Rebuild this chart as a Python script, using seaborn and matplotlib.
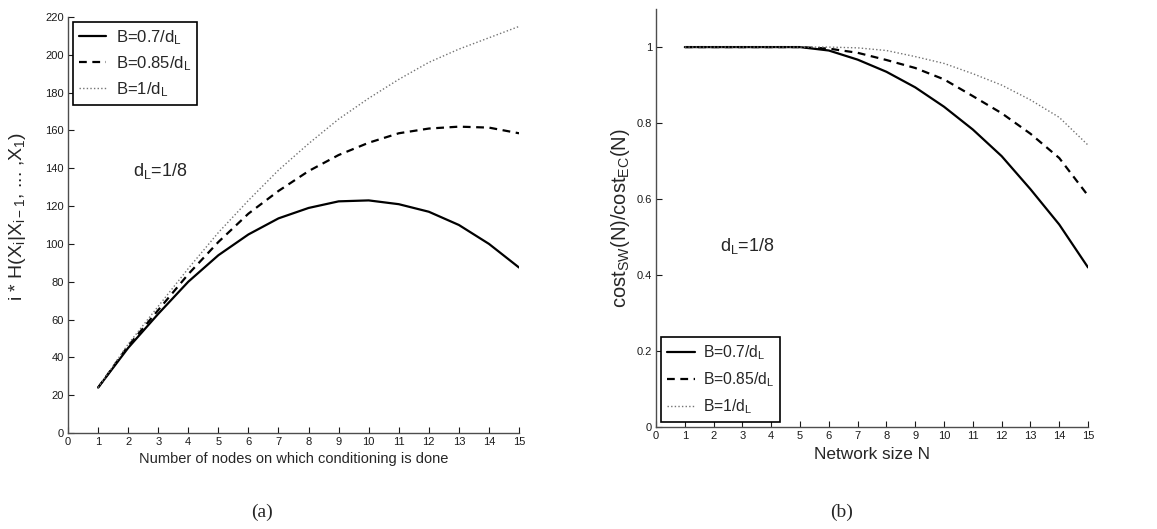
import matplotlib
matplotlib.use("Agg")
import matplotlib.pyplot as plt
import seaborn as sns
import pandas as pd

# ---- data ----
nodes = list(range(1, 16))
labels = ["B=0.7/d$_L$", "B=0.85/d$_L$", "B=1/d$_L$"]
entropy_07 = [24, 45, 63, 80, 94, 105, 113.5, 119, 122.5, 123, 121, 117, 110, 100, 87.5]
entropy_085 = [24, 46, 65, 84, 101, 116, 128, 138.5, 147, 153.5, 158.5, 161, 162, 161.5, 158.5]
entropy_1 = [24, 47, 67, 87, 106, 123, 139, 153, 166, 177, 187, 196, 203, 209, 215]

netsize = list(range(1, 16))
cost_07 = [1, 1, 1, 1, 1, 0.991, 0.967, 0.935, 0.894, 0.843, 0.783, 0.713, 0.626, 0.533, 0.42]
cost_085 = [1, 1, 1, 1, 1, 0.996, 0.985, 0.966, 0.945, 0.915, 0.871, 0.826, 0.772, 0.708, 0.609]
cost_1 = [1, 1, 1, 1, 1, 1, 0.998, 0.991, 0.975, 0.957, 0.93, 0.9, 0.861, 0.815, 0.742]

sns.set_theme(style="ticks")
plt.rcParams['font.family'] = ['Liberation Sans', 'DejaVu Sans']
plt.rcParams['mathtext.default'] = 'regular'

fig = plt.figure(figsize=(11.57, 5.29), dpi=100)
axA = fig.add_axes([0.0588, 0.1815, 0.3898, 0.7864])
axB = fig.add_axes([0.567, 0.1928, 0.3734, 0.790])

styles = [dict(color='black', lw=1.6, ls='-'),
          dict(color='black', lw=1.6, ls=(0, (3.5, 2.5))),
          dict(color='0.45', lw=1.0, ls=(0, (1, 1.6)))]

def draw(ax, x, series):
    for lab, ys, st in zip(labels, series, styles):
        df = pd.DataFrame({'x': x, 'y': ys})
        sns.lineplot(data=df, x='x', y='y', ax=ax, label=lab,
                     color=st['color'], linewidth=st['lw'], linestyle=st['ls'])

draw(axA, nodes, [entropy_07, entropy_085, entropy_1])
draw(axB, netsize, [cost_07, cost_085, cost_1])

for ax in (axA, axB):
    sns.despine(ax=ax)
    ax.set_xlim(0, 15)
    ax.set_xticks(range(0, 16))
    ax.tick_params(direction='in', length=4, width=0.8, labelsize=8, colors='0.1', pad=3)
    for s in ('left', 'bottom'):
        ax.spines[s].set_color('0.3')
        ax.spines[s].set_linewidth(1.0)

axA.set_ylim(0, 220)
axA.set_yticks(range(0, 221, 20))
axB.set_ylim(0, 1.1)
axB.set_yticks([0, 0.2, 0.4, 0.6, 0.8, 1])
axB.set_yticklabels(['0', '0.2', '0.4', '0.6', '0.8', '1'])

axA.set_xlabel("Number of nodes on which conditioning is done", fontsize=10.5)
axA.set_ylabel("i * H(X$_i$|X$_{i-1}$, ... ,X$_1$)", fontsize=14)
axA.xaxis.set_label_coords(0.5, -0.045)
axA.yaxis.set_label_coords(-0.088, 0.52)

axB.set_xlabel("Network size N", fontsize=12.4)
axB.set_ylabel("cost$_{SW}$(N)/cost$_{EC}$(N)", fontsize=14.5)
axB.xaxis.set_label_coords(0.5, -0.048)
axB.yaxis.set_label_coords(-0.055, 0.5)

axA.text(0.145, 0.617, "d$_L$=1/8", transform=axA.transAxes, fontsize=13)
axB.text(0.148, 0.42, "d$_L$=1/8", transform=axB.transAxes, fontsize=13)

legA = axA.legend(loc='upper left', bbox_to_anchor=(0.011, 0.988), fontsize=12,
                  frameon=True, fancybox=False, edgecolor='black', framealpha=1,
                  handlelength=1.65, borderpad=0.35, labelspacing=0.45, handletextpad=0.6,
                  borderaxespad=0)
legA.get_frame().set_linewidth(1.2)
legB = axB.legend(loc='lower left', bbox_to_anchor=(0.012, 0.012), fontsize=11.3,
                  frameon=True, fancybox=False, edgecolor='black', framealpha=1,
                  handlelength=1.75, borderpad=0.4, labelspacing=0.52, handletextpad=0.5,
                  borderaxespad=0)
legB.get_frame().set_linewidth(1.2)

fig.text(262 / 1157, 1 - 517 / 529, "(a)", family='Liberation Serif', fontsize=14,
         ha='center', va='baseline')
fig.text(842 / 1157, 1 - 517 / 529, "(b)", family='Liberation Serif', fontsize=14,
         ha='center', va='baseline')

fig.savefig("out.png", dpi=100)
